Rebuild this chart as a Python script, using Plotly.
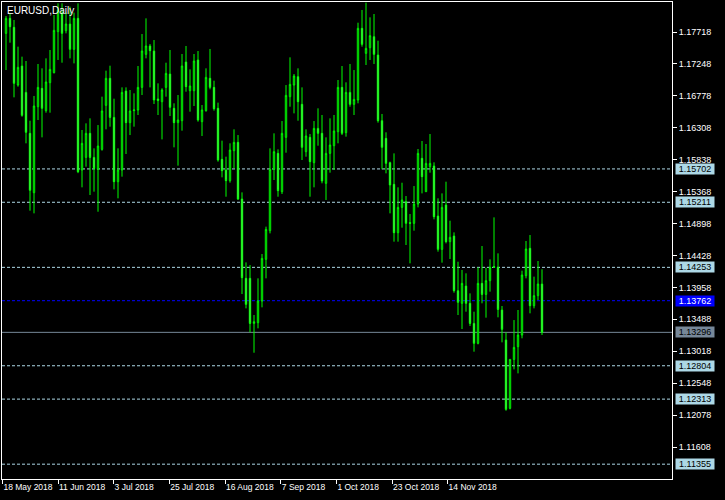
import plotly.graph_objects as go

# ---- data ----
opens = [1.17698,1.17919,1.17787,1.16937,1.17217,1.16829,1.16226,1.15352,1.16618,1.16888,
         1.16560,1.16972,1.17119,1.17723,1.17993,1.17737,1.17836,1.17463,1.17919,1.15686,
         1.15872,1.16226,1.15872,1.15696,1.15990,1.16638,1.17036,1.16461,1.15514,1.15686,
         1.16849,1.16383,1.16560,1.16569,1.16903,1.17389,1.17512,1.17438,1.16732,1.16692,
         1.16903,1.17099,1.16594,1.16383,1.16412,1.17276,1.16854,1.16854,1.17306,1.16398,
         1.16560,1.17036,1.16903,1.16594,1.15843,1.15686,1.15529,1.15971,1.16093,1.15259,
         1.14091,1.14091,1.13428,1.13438,1.13757,1.14371,1.14793,1.15696,1.15931,1.15367,
         1.16167,1.16766,1.16937,1.17060,1.16653,1.15956,1.16167,1.15794,1.16299,1.16226,
         1.15490,1.15931,1.16044,1.16250,1.16903,1.16236,1.16829,1.16653,1.16717,1.17772,
         1.17404,1.17487,1.17649,1.17379,1.16412,1.16152,1.15794,1.15475,1.14763,1.15136,
         1.15220,1.14911,1.14901,1.15185,1.15858,1.15367,1.15735,1.15745,1.15009,1.14518,
         1.15171,1.14631,1.14714,1.13909,1.13723,1.13978,1.13723,1.13428,1.13134,1.14017,
         1.13855,1.14057,1.14253,1.14253,1.13624,1.13183,1.12177,1.12898,1.13085,1.13257,
         1.14130,1.14533,1.13688,1.13836,1.14007]
highs = [1.17953,1.17993,1.17895,1.17502,1.17355,1.17291,1.16412,1.16776,1.17247,1.17183,
         1.17330,1.17453,1.17968,1.18140,1.18140,1.18003,1.18091,1.18003,1.18140,1.16275,
         1.16373,1.16447,1.16005,1.16348,1.16766,1.17149,1.17222,1.16736,1.16005,1.16903,
         1.16903,1.16864,1.16815,1.17217,1.17688,1.17919,1.17540,1.17600,1.16962,1.16889,
         1.17266,1.17453,1.16668,1.16790,1.17394,1.17512,1.17168,1.17394,1.17438,1.16643,
         1.17183,1.17468,1.17001,1.16678,1.16118,1.15882,1.16079,1.16285,1.16201,1.15357,
         1.14326,1.14287,1.13551,1.14091,1.14449,1.14852,1.16005,1.16226,1.15990,1.16407,
         1.16937,1.17345,1.17099,1.17183,1.16903,1.16285,1.16216,1.16407,1.16594,1.16496,
         1.16167,1.16447,1.16496,1.17011,1.17217,1.16977,1.17247,1.17158,1.17855,1.18042,
         1.18150,1.17934,1.17983,1.17590,1.16511,1.16241,1.15809,1.15931,1.15431,1.15499,
         1.15303,1.15038,1.15450,1.15995,1.16113,1.16069,1.16216,1.15799,1.15269,1.15342,
         1.15514,1.14940,1.14768,1.14336,1.14214,1.14165,1.13870,1.13600,1.14253,1.14567,
         1.14248,1.14371,1.14989,1.14459,1.13684,1.13296,1.12898,1.13477,1.13625,1.14204,
         1.14641,1.14729,1.14116,1.14346,1.14224]
lows = [1.17158,1.17561,1.16756,1.16913,1.16471,1.16079,1.15087,1.15048,1.16422,1.16167,
        1.16530,1.16530,1.17109,1.17306,1.17266,1.17698,1.17330,1.17256,1.15640,1.15431,
        1.15735,1.15318,1.15367,1.15072,1.15971,1.16285,1.16324,1.15401,1.15269,1.15588,
        1.15922,1.16201,1.16324,1.16496,1.16790,1.17330,1.16903,1.16658,1.16496,1.16137,
        1.16766,1.16481,1.16020,1.15750,1.16265,1.16839,1.16545,1.16628,1.16398,1.16187,
        1.16545,1.16874,1.16560,1.15809,1.15578,1.15293,1.15500,1.15710,1.15245,1.13860,
        1.13649,1.13296,1.12996,1.13355,1.13664,1.14091,1.14753,1.15539,1.15293,1.15333,
        1.15941,1.16618,1.16520,1.16412,1.15833,1.15882,1.15293,1.15431,1.16044,1.15490,
        1.15245,1.15647,1.15686,1.16079,1.16201,1.16177,1.16618,1.16496,1.16668,1.17502,
        1.17232,1.17306,1.17247,1.16383,1.15696,1.15637,1.15048,1.14631,1.14631,1.14837,
        1.14582,1.14312,1.14793,1.15136,1.15342,1.15367,1.15647,1.14960,1.14484,1.14322,
        1.14606,1.14376,1.13880,1.13551,1.13345,1.13600,1.13389,1.13011,1.13119,1.13723,
        1.13512,1.13895,1.14248,1.13517,1.13149,1.12142,1.12162,1.12751,1.12692,1.13208,
        1.14091,1.13576,1.13649,1.13772,1.13257]
closes = [1.17919,1.17796,1.16962,1.17198,1.16491,1.16241,1.15387,1.16628,1.16903,1.16594,
          1.16982,1.17168,1.17742,1.18042,1.17698,1.17836,1.17463,1.17919,1.15661,1.16079,
          1.16226,1.15872,1.15710,1.16039,1.16555,1.17036,1.16461,1.15514,1.15686,1.16829,
          1.16383,1.16555,1.16570,1.16903,1.17438,1.17512,1.17443,1.16717,1.16708,1.16864,
          1.17109,1.16609,1.16383,1.16422,1.17217,1.16913,1.16923,1.17291,1.16422,1.16570,
          1.17050,1.16903,1.16589,1.15833,1.15676,1.15529,1.15980,1.16093,1.15259,1.14101,
          1.13708,1.13428,1.13452,1.13757,1.14385,1.14812,1.15696,1.15956,1.15382,1.16226,
          1.16785,1.16947,1.17070,1.16692,1.16020,1.16187,1.15809,1.16299,1.16226,1.15524,
          1.15931,1.16054,1.16260,1.16903,1.16226,1.16829,1.16653,1.16726,1.17772,1.17536,
          1.17477,1.17664,1.17389,1.16412,1.16020,1.15784,1.15465,1.14763,1.15136,1.15244,
          1.14901,1.14901,1.15185,1.15931,1.15588,1.15784,1.15784,1.14999,1.14518,1.15136,
          1.14631,1.14695,1.13909,1.13738,1.14017,1.13723,1.13428,1.13134,1.14017,1.13855,
          1.14057,1.14253,1.14263,1.13634,1.13340,1.12162,1.12898,1.13075,1.13257,1.14140,
          1.14523,1.13688,1.13836,1.14007,1.13296]

date_labels = ["18 May 2018", "11 Jun 2018", "3 Jul 2018", "25 Jul 2018", "16 Aug 2018",
               "7 Sep 2018", "1 Oct 2018", "23 Oct 2018", "14 Nov 2018"]
date_label_bars = [-0.9, 13.0, 26.9, 40.8, 54.75, 68.7, 82.6, 96.5, 110.4]

price_ticks = [1.17718, 1.17248, 1.16778, 1.16308, 1.15838, 1.15368, 1.14898,
               1.14428, 1.13958, 1.13488, 1.13018, 1.12548, 1.12078, 1.11608]

level_lines = [1.15702, 1.15211, 1.14253, 1.12804, 1.12313, 1.11355]
blue_line = 1.13762
bid_line = 1.13296

bars = list(range(len(opens)))

fig = go.Figure()
fig.add_trace(go.Candlestick(
    x=bars, open=opens, high=highs, low=lows, close=closes,
    increasing=dict(line=dict(color="#00ff00", width=1), fillcolor="#000000"),
    decreasing=dict(line=dict(color="#00ff00", width=1), fillcolor="#ffffff"),
    whiskerwidth=0, showlegend=False, hoverinfo="skip",
))

shapes = []
annotations = []
lab_font = "Liberation Sans"
for v in level_lines:
    shapes.append(dict(type="line", xref="paper", x0=0, x1=1, yref="y", y0=v, y1=v,
                       line=dict(color="#add8e6", width=1, dash="3px,2px"), layer="below"))
    annotations.append(dict(xref="paper", x=1, xshift=3, xanchor="left", yref="y", y=v,
                            yanchor="middle", text=f"{v:.5f}", showarrow=False,
                            bgcolor="#add8e6", font=dict(color="#000000", size=9, family=lab_font),
                            width=38, height=10, borderpad=0))
shapes.append(dict(type="line", xref="paper", x0=0, x1=1, yref="y", y0=blue_line, y1=blue_line,
                   line=dict(color="#0000ff", width=1, dash="3px,2px"), layer="below"))
annotations.append(dict(xref="paper", x=1, xshift=3, xanchor="left", yref="y", y=blue_line,
                        yanchor="middle", text=f"{blue_line:.5f}", showarrow=False,
                        bgcolor="#0000ff", font=dict(color="#ffffff", size=9, family=lab_font),
                        width=38, height=10, borderpad=0))
shapes.append(dict(type="line", xref="paper", x0=0, x1=1, yref="y", y0=bid_line, y1=bid_line,
                   line=dict(color="#778899", width=1), layer="below"))
annotations.append(dict(xref="paper", x=1, xshift=3, xanchor="left", yref="y", y=bid_line,
                        yanchor="middle", text=f"{bid_line:.5f}", showarrow=False,
                        bgcolor="#778899", font=dict(color="#000000", size=9, family=lab_font),
                        width=38, height=10, borderpad=0))
annotations.append(dict(xref="paper", x=0, xshift=3, xanchor="left", yref="paper", y=1, yshift=-1,
                        yanchor="top", text="EURUSD,Daily", showarrow=False,
                        font=dict(color="#ffffff", size=10, family=lab_font)))

fig.update_layout(
    width=725, height=500,
    margin=dict(l=2, r=53, t=2, b=21, autoexpand=False),
    paper_bgcolor="#000000", plot_bgcolor="#000000",
    shapes=shapes, annotations=annotations,
    boxgap=0.5,
    xaxis=dict(range=[-1.0, 166.5], rangeslider=dict(visible=False), showgrid=False, zeroline=False,
               showline=True, linecolor="#ffffff", linewidth=1, mirror=True, automargin=False,
               tickmode="array", tickvals=date_label_bars, ticktext=date_labels, tickangle=0,
               ticks="outside", ticklen=4, tickcolor="#ffffff", tickwidth=1,
               ticklabelposition="outside right",
               tickfont=dict(color="#ffffff", size=8.5, family=lab_font)),
    yaxis=dict(range=[1.111368, 1.181597], side="right", showgrid=False, zeroline=False,
               showline=True, linecolor="#ffffff", linewidth=1, mirror=True, automargin=False,
               tickmode="array", tickvals=price_ticks, ticktext=[f"{t:.5f}" for t in price_ticks],
               ticks="outside", ticklen=4, tickcolor="#ffffff", tickwidth=1,
               tickfont=dict(color="#ffffff", size=9, family=lab_font)),
)

fig.write_html("out.html", config={"displayModeBar": False},
               post_script="document.body.style.margin='0';document.body.style.background='#000';")
